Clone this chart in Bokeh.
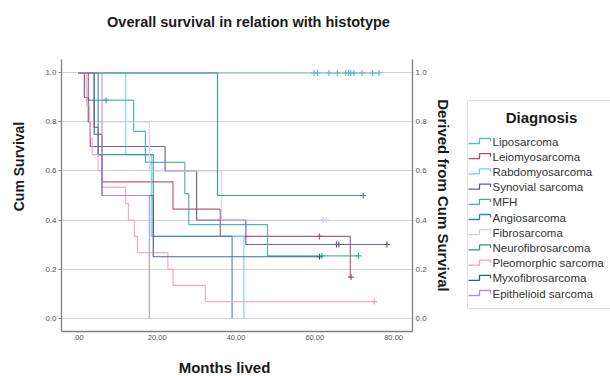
import math
from bokeh.plotting import figure
from bokeh.models import Range1d, LinearAxis, FixedTicker
from bokeh.layouts import row, column
from bokeh.embed import file_html
from bokeh.resources import INLINE
from bokeh.core.properties import value

# ---------------- data ----------------
diagnoses = ["Liposarcoma", "Leiomyosarcoma", "Rabdomyosarcoma", "Synovial sarcoma",
             "MFH", "Angiosarcoma", "Fibrosarcoma", "Neurofibrosarcoma",
             "Pleomorphic sarcoma", "Myxofibrosarcoma", "Epithelioid sarcoma"]
colors = ["#62B6DC", "#B04A72", "#66D8D6", "#6A4CA6", "#3CB0A0", "#3F7FB8",
          "#D9C9F2", "#3E8A86", "#F4A0BC", "#3A5890", "#B08FE6"]

# months of death (event), survival after each event, censored months
lipo_t = []
lipo_s = []
lipo_c = [59.8, 60.7, 63.6, 65.7, 67.8, 68.5, 69.1, 69.9, 72.0, 74.7, 76.3]

leio_t = [2.5, 4.0, 5.0, 6.0, 24.0, 36.0, 69.0]
leio_s = [0.889, 0.778, 0.667, 0.556, 0.444, 0.333, 0.167]
leio_c = [61.2, 69.2]

rabdo_t = [12.0, 18.5, 42.0]
rabdo_s = [0.667, 0.333, 0.0]
rabdo_c = []

syn_t = [1.5, 2.5, 3.0, 22.0, 30.0, 42.5]
syn_s = [0.9, 0.8, 0.7, 0.6, 0.4, 0.3]
syn_c = [65.5, 66.1, 78.3]

mfh_t = [4.0, 14.0, 17.0, 27.0, 28.0, 48.0]
mfh_s = [0.889, 0.762, 0.635, 0.508, 0.381, 0.254]
mfh_c = [7.0, 61.8, 71.1]

angio_t = [5.0, 19.0, 39.0]
angio_s = [0.667, 0.333, 0.0]
angio_c = []

fibro_t = [4.0, 18.0, 36.3]
fibro_s = [0.8, 0.6, 0.4]
fibro_c = [62.1, 62.9]

neuro_t = [35.3]
neuro_s = [0.5]
neuro_c = [72.3]

pleo_t = [2.0, 2.1, 2.8, 3.0, 3.5, 5.0, 6.0, 12.0, 12.7, 14.2, 15.0, 22.7, 24.0, 32.2]
pleo_s = [0.933, 0.867, 0.8, 0.733, 0.667, 0.6, 0.533, 0.467, 0.4, 0.333, 0.267, 0.2, 0.133, 0.067]
pleo_c = [75.1]

myxo_t = [4.0, 6.0, 19.0]
myxo_s = [0.75, 0.5, 0.25]
myxo_c = [61.2]

epi_t = [6.0, 18.0]
epi_s = [0.5, 0.0]
epi_c = []

x_ticks = [0, 20, 40, 60, 80]
x_tick_labels = [".00", "20.00", "40.00", "60.00", "80.00"]
y_ticks = [0.0, 0.2, 0.4, 0.6, 0.8, 1.0]
y_tick_labels = ["0.0", "0.2", "0.4", "0.6", "0.8", "1.0"]

title_text = "Overall survival in relation with histotype"
x_title = "Months lived"
y_title = "Cum Survival"
y2_title = "Derived from Cum Survival"
legend_title = "Diagnosis"

series = [(lipo_t, lipo_s, lipo_c), (leio_t, leio_s, leio_c), (rabdo_t, rabdo_s, rabdo_c),
          (syn_t, syn_s, syn_c), (mfh_t, mfh_s, mfh_c), (angio_t, angio_s, angio_c),
          (fibro_t, fibro_s, fibro_c), (neuro_t, neuro_s, neuro_c), (pleo_t, pleo_s, pleo_c),
          (myxo_t, myxo_s, myxo_c), (epi_t, epi_s, epi_c)]

FONT = "Liberation Sans"
TXT = "#1a1a1a"


def km_path(ev_t, ev_s, cens):
    xs, ys, cur = [0.0], [1.0], 1.0
    for t, s in zip(ev_t, ev_s):
        xs += [t, t]
        ys += [cur, s]
        cur = s
    end = max(list(ev_t) + list(cens))
    xs.append(end)
    ys.append(cur)
    return xs, ys


def level_at(ev_t, ev_s, c):
    lev = 1.0
    for t, s in zip(ev_t, ev_s):
        if t <= c:
            lev = s
    return lev


def no_align(fig):
    try:
        fig.frame_align = False
    except Exception:
        pass


def blank(width, height, x0, x1, y0, y1):
    """A plain canvas whose ranges are page pixels (y downward)."""
    f = figure(width=width, height=height, x_range=Range1d(x0, x1), y_range=Range1d(y1, y0),
               output_backend="svg", toolbar_location=None,
               min_border=0, min_border_left=0, min_border_right=0,
               min_border_top=0, min_border_bottom=0)
    f.axis.visible = False
    f.grid.visible = False
    f.outline_line_color = None
    f.background_fill_color = "white"
    f.border_fill_color = "white"
    no_align(f)
    return f


# ---------------- main plot (page x 33..455, y 45..350) ----------------
p = figure(width=422, height=305, x_range=Range1d(-4.3, 84.8), y_range=Range1d(-0.055, 1.055),
           output_backend="svg", toolbar_location=None,
           min_border_left=28, min_border_right=43, min_border_top=14, min_border_bottom=19)
no_align(p)
p.outline_line_color = None
p.background_fill_color = "white"
p.border_fill_color = "white"
p.xgrid.visible = False
p.ygrid.ticker = FixedTicker(ticks=y_ticks)
p.ygrid.grid_line_color = "#d4d4d4"
p.ygrid.grid_line_width = 1

xa = p.xaxis[0]
xa.ticker = FixedTicker(ticks=x_ticks)
xa.major_label_overrides = {t: l for t, l in zip(x_ticks, x_tick_labels)}
xa.major_tick_out = 0
xa.major_tick_in = 0
xa.minor_tick_out = 0
xa.minor_tick_in = 0
xa.major_label_standoff = 3
xa.major_label_text_font = FONT
xa.major_label_text_font_size = "7.5px"
xa.major_label_text_color = "#555555"
xa.axis_line_color = "#808080"
xa.axis_line_width = 1.3

right_axis = LinearAxis()
p.add_layout(right_axis, "right")
for ax in [p.yaxis[0], right_axis]:
    ax.ticker = FixedTicker(ticks=y_ticks)
    ax.major_label_overrides = {t: l for t, l in zip(y_ticks, y_tick_labels)}
    ax.major_tick_out = 3
    ax.major_tick_in = 0
    ax.minor_tick_out = 0
    ax.minor_tick_in = 0
    ax.major_tick_line_color = "#808080"
    ax.major_label_standoff = 2
    ax.major_label_text_font = FONT
    ax.major_label_text_font_size = "8px"
    ax.major_label_text_color = "#555555"
    ax.axis_line_color = "#808080"
    ax.axis_line_width = 1.3
right_axis.major_tick_out = 1
right_axis.axis_label = y2_title
right_axis.axis_label_standoff = 5
right_axis.axis_label_text_font = FONT
right_axis.axis_label_text_font_size = "15px"
right_axis.axis_label_text_font_style = "bold"
right_axis.axis_label_text_color = TXT

for (ev_t, ev_s, cens), col in zip(series, colors):
    xs, ys = km_path(ev_t, ev_s, cens)
    p.line(xs, ys, line_color=col, line_width=1.2, line_alpha=0.9)
    if cens:
        cy = [level_at(ev_t, ev_s, c) for c in cens]
        p.scatter(cens, cy, marker="cross", size=6, line_color=col, line_width=1.2)

# ---------------- text canvases (ranges are page pixels) ----------------
left_fig = blank(33, 376, 0, 33, 0, 376)
left_fig.text(x=[18], y=[166], text=[y_title], angle=math.pi / 2, text_font=value(FONT),
              text_font_size="14px", text_font_style="bold", text_color=TXT,
              text_align="center", text_baseline="middle")

top_fig = blank(422, 45, 33, 455, 0, 45)
top_fig.text(x=[248], y=[21], text=[title_text], text_font=value(FONT),
             text_font_size="14.5px", text_font_style="bold", text_color=TXT,
             text_align="center", text_baseline="middle")

bottom_fig = blank(422, 26, 33, 455, 350, 376)
bottom_fig.text(x=[224], y=[367], text=[x_title], text_font=value(FONT),
                text_font_size="15px", text_font_style="bold", text_color=TXT,
                text_align="center", text_baseline="middle")

# ---------------- legend panel ----------------
lg = blank(155, 376, 455, 610, 0, 376)
lg.quad(left=[467], right=[640], top=[100], bottom=[308], fill_color="white",
        line_color="#e0e0e0", line_width=1)
lg.text(x=[541], y=[117], text=[legend_title], text_font=value(FONT), text_font_size="15px",
        text_font_style="bold", text_color=TXT, text_align="center",
        text_baseline="middle")

row_y0, row_dy = 141.0, 15.2
item_y = [row_y0 + i * row_dy for i in range(len(diagnoses))]
lg.text(x=[492] * len(diagnoses), y=item_y, text=diagnoses, text_font=value(FONT),
        text_font_size="11.5px", text_color="#333333", text_align="left",
        text_baseline="middle")
icon_xs = [[468, 479, 479, 490, 490] for _ in diagnoses]
icon_ys = [[y + 2, y + 2, y - 3, y - 3, y] for y in item_y]
lg.multi_line(xs=icon_xs, ys=icon_ys, line_color=colors, line_width=1.3)

layout = row(left_fig, column(top_fig, p, bottom_fig, spacing=0), lg, spacing=0)
open("out.html", "w").write(file_html(layout, INLINE))
